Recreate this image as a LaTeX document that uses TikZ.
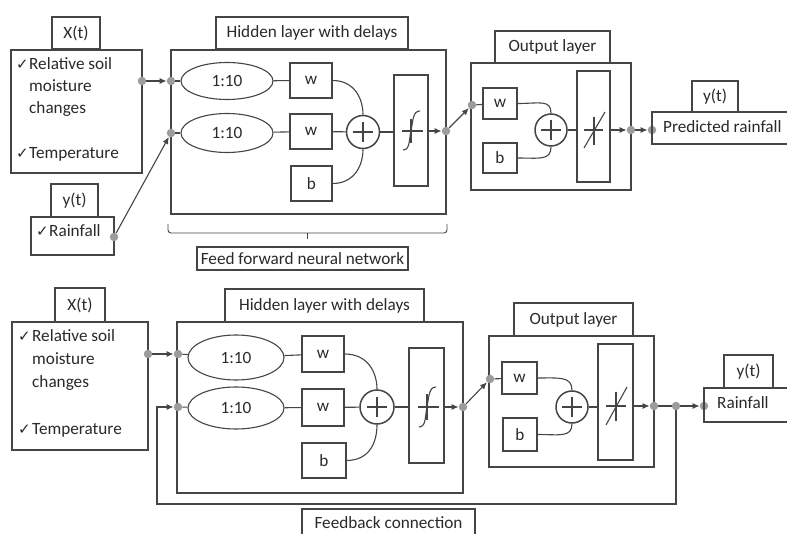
\documentclass[tikz,border=0pt]{standalone}
\usepackage{fontspec}
\setmainfont{Carlito}
\newfontfamily\ckfont{DejaVu Sans}
\usetikzlibrary{shapes.geometric,arrows.meta}
\definecolor{ln}{HTML}{454545}
\definecolor{tx}{HTML}{2A2A2A}
\definecolor{dotc}{HTML}{9C9C9C}
\newcommand\fsz{\fontsize{17.2}{20}\selectfont}
\newcommand\ck{{\ckfont\fontsize{15}{15}\selectfont ✓}}
\begin{document}
\begin{tikzpicture}[x=1pt,y=-1pt,
  box/.style={draw=ln, line width=1.1pt, inner sep=0pt, text=tx, font=\fsz},
  txt/.style={inner sep=0pt, text=tx, font=\fsz},
  ell/.style={box, ellipse},
  sumc/.style={draw=ln, circle, line width=1.5pt, minimum size=33pt, inner sep=0pt},
  dot/.style={circle, fill=dotc, inner sep=0pt, minimum size=8.5pt},
  con/.style={draw=ln, line width=1.1pt},
  arr/.style={con, -{Latex[length=7pt,width=6pt]}},
  glyph/.style={draw=ln, line width=1.1pt}
]
\useasboundingbox (0,0) rectangle (787,534);
\fill[white] (0,0) rectangle (787,534);

% ================= TOP =================
% inputs
\node[box, minimum width=48pt, minimum height=32pt] (xl1) at (76,33) {X(t)};
\node[box, minimum width=131pt, minimum height=123pt] (in1) at (76.5,111.5) {};
\node[txt, anchor=mid west] (c1a) at (16,67) {\ck};
\node[txt, anchor=mid west] (t1a) at (29,67) {Relative soil};
\node[txt, anchor=mid west] (t1b) at (29,89) {moisture};
\node[txt, anchor=mid west] (t1c) at (29,111) {changes};
\node[txt, anchor=mid west] (c1b) at (16,156) {\ck};
\node[txt, anchor=mid west] (t1d) at (29,156) {Temperature};

\node[box, minimum width=47pt, minimum height=33pt] (yl1) at (74.5,200.5) {y(t)};
\node[box, minimum width=83pt, minimum height=38pt] (rn1) at (72.5,236) {};
\node[txt, anchor=mid west] (c1c) at (36,234) {\ck};
\node[txt, anchor=mid west] (t1e) at (49,234) {Rainfall};

% hidden layer
\node[box, minimum width=192pt, minimum height=32pt] (hl1) at (312,33) {Hidden layer with delays};
\node[box, minimum width=275pt, minimum height=164pt] (hid1) at (308.5,132) {};
\node[ell, minimum width=92pt, minimum height=37pt] (e1a) at (227,81) {1:10};
\node[ell, minimum width=92pt, minimum height=39pt] (e1b) at (227,133) {1:10};
\node[box, minimum width=42pt, minimum height=35pt] (w1a) at (311,80.5) {w};
\node[box, minimum width=42pt, minimum height=35pt] (w1b) at (311,131.5) {w};
\node[box, minimum width=41pt, minimum height=35pt] (b1) at (311.5,183.5) {b};
\node[sumc] (s1) at (363,132) {};
\draw[line width=2pt, ln] (s1.center) ++(-10,0) -- ++(20,0);
\draw[line width=2pt, ln] (s1.center) ++(0,-10) -- ++(0,20);
\node[box, minimum width=34pt, minimum height=111pt] (a1) at (411,130.5) {};
\draw[glyph] (411,131) ++(-9,0) -- ++(21,0);
\draw[glyph] (411,131) ++(0,-12) -- ++(0,24);
\draw[glyph] (403,150) .. controls (410,150) and (409,140) .. (411,131) .. controls (413,120) and (413,111) .. (420,111);

\node[dot] (d1a) at (142,81) {};
\node[dot] (d1b) at (171,81) {};
\node[dot] (d1c) at (171,133) {};
\node[dot] (d1r) at (114,237) {};
\node[dot] (d1h) at (446,131) {};

\draw[arr] (d1a) -- (d1b);
\draw[arr] (d1r) -- (d1c);
\draw[con] (d1b) -- (e1a);
\draw[con] (d1c) -- (e1b);
\draw[con] (e1a) -- (w1a);
\draw[con] (e1b) -- (w1b);
\draw[con] (w1a.east) .. controls +(22,0) and +(0,-16) .. (s1.north);
\draw[con] (w1b) -- (s1);
\draw[con] (b1.east) .. controls +(22,0) and +(0,16) .. (s1.south);
\draw[con] (s1) -- (a1.west |- s1);
\draw[arr] (a1.east |- d1h) -- (d1h);

% output layer
\node[box, minimum width=115pt, minimum height=32pt] (ol1) at (552.5,47) {Output layer};
\node[box, minimum width=160pt, minimum height=127pt] (out1) at (551,126.5) {};
\node[dot] (d1o) at (472,105) {};
\node[box, minimum width=34pt, minimum height=31pt] (ow1) at (500,103.5) {w};
\node[box, minimum width=34pt, minimum height=30pt] (ob1) at (500,158) {b};
\node[sumc, minimum size=32pt] (os1) at (551,130) {};
\draw[line width=2pt, ln] (os1.center) ++(-10,0) -- ++(20,0);
\draw[line width=2pt, ln] (os1.center) ++(0,-10) -- ++(0,20);
\node[box, minimum width=33pt, minimum height=111pt] (oa1) at (593.5,126.5) {};
\draw[glyph] (594,130) ++(-10,0) -- ++(19,0);
\draw[glyph] (594,130) ++(0,-13) -- ++(0,28);
\draw[glyph] (594,130) ++(-10,18) -- ++(21,-36);
\node[dot] (d1oo) at (631,130) {};
\node[dot] (d1p) at (652,130) {};

\draw[arr] (d1h) -- (d1o);
\draw[con] (d1o) -- (ow1);
\draw[con] (ow1.east) .. controls +(22,0) and +(0,-14) .. (os1.north);
\draw[con] (ob1.east) .. controls +(22,0) and +(0,14) .. (os1.south);
\draw[con] (os1) -- (oa1.west |- os1);
\draw[arr] (oa1.east |- d1oo) -- (d1oo);
\draw[arr] (d1oo) -- (d1p);

% predicted output
\node[box, minimum width=46pt, minimum height=31pt] (yl1b) at (715,96.5) {y(t)};
\coordinate (pr1) at (787,112);
\coordinate (pr2) at (652,112);
\coordinate (pr3) at (652,144);
\coordinate (pr4) at (787,144);
\draw[con] (pr1) -- (pr2) -- (pr3) -- (pr4);
\node[txt, anchor=mid west] (tp) at (663,130) {Predicted rainfall};

% brace + label
\coordinate (br1) at (168,224);
\coordinate (br2) at (168,233);
\coordinate (br3) at (447,233);
\coordinate (br4) at (447,224);
\coordinate (brm) at (307,233);
\coordinate (brt) at (307,239);
\draw[con, line width=0.9pt, rounded corners=3pt] (br1) -- (br2) -- (br3) -- (br4);
\draw[con, line width=0.9pt] (brm) -- (brt);
\node[box, minimum width=211pt, minimum height=23pt] (ff) at (302.5,258.5) {Feed forward neural network};

% ================= BOTTOM =================
\node[box, minimum width=50pt, minimum height=34pt] (xl2) at (80,305) {X(t)};
\node[box, minimum width=136pt, minimum height=128pt] (in2) at (80,386) {};
\node[txt, anchor=mid west] (c2a) at (18,339) {\ck};
\node[txt, anchor=mid west] (t2a) at (32,339) {Relative soil};
\node[txt, anchor=mid west] (t2b) at (32,362) {moisture};
\node[txt, anchor=mid west] (t2c) at (32,385) {changes};
\node[txt, anchor=mid west] (c2b) at (18,432) {\ck};
\node[txt, anchor=mid west] (t2d) at (32,432) {Temperature};

\node[box, minimum width=199pt, minimum height=33pt] (hl2) at (324.5,305.5) {Hidden layer with delays};
\node[box, minimum width=286pt, minimum height=171pt] (hid2) at (320,407.5) {};
\node[ell, minimum width=96pt, minimum height=45pt] (e2a) at (236,357.5) {1:10};
\node[ell, minimum width=96pt, minimum height=42pt] (e2b) at (236,408) {1:10};
\node[box, minimum width=42pt, minimum height=36pt] (w2a) at (323,354) {w};
\node[box, minimum width=42pt, minimum height=37pt] (w2b) at (323,407.5) {w};
\node[box, minimum width=44pt, minimum height=35pt] (b2) at (324,460.5) {b};
\node[sumc, minimum size=34pt] (s2) at (377,407) {};
\draw[line width=2pt, ln] (s2.center) ++(-10,0) -- ++(20,0);
\draw[line width=2pt, ln] (s2.center) ++(0,-10) -- ++(0,20);
\node[box, minimum width=35pt, minimum height=115pt] (a2) at (426.5,405.5) {};
\draw[glyph] (427,407) ++(-9,0) -- ++(21,0);
\draw[glyph] (427,407) ++(0,-13) -- ++(0,26);
\draw[glyph] (419,427) .. controls (426,427) and (425,417) .. (427,407) .. controls (429,396) and (429,387) .. (436,387);

\node[dot] (d2a) at (148,354) {};
\node[dot] (d2b) at (178,354) {};
\node[dot] (d2c) at (178,407) {};
\node[dot] (d2h) at (463,407) {};

\draw[arr] (d2a) -- (d2b);
\draw[con] (d2b) -- (e2a);
\draw[con] (d2c) -- (e2b);
\draw[con] (e2a) -- (w2a);
\draw[con] (e2b) -- (w2b);
\draw[con] (w2a.east) .. controls +(24,0) and +(0,-16) .. (s2.north);
\draw[con] (w2b) -- (s2);
\draw[con] (b2.east) .. controls +(24,0) and +(0,16) .. (s2.south);
\draw[con] (s2) -- (a2.west |- s2);
\draw[arr] (a2.east |- d2h) -- (d2h);

\node[box, minimum width=119pt, minimum height=33pt] (ol2) at (573.5,319.5) {Output layer};
\node[box, minimum width=165pt, minimum height=131pt] (out2) at (571.5,401.5) {};
\node[dot] (d2o) at (490,379) {};
\node[box, minimum width=35pt, minimum height=32pt] (ow2) at (519.5,378) {w};
\node[box, minimum width=34pt, minimum height=33pt] (ob2) at (520,434.5) {b};
\node[sumc, minimum size=32pt] (os2) at (572,407) {};
\draw[line width=2pt, ln] (os2.center) ++(-10,0) -- ++(20,0);
\draw[line width=2pt, ln] (os2.center) ++(0,-10) -- ++(0,20);
\node[box, minimum width=35pt, minimum height=116pt] (oa2) at (615.5,402) {};
\draw[glyph] (616,406) ++(-10,0) -- ++(20,0);
\draw[glyph] (616,406) ++(0,-14) -- ++(0,29);
\draw[glyph] (616,406) ++(-10,19) -- ++(21,-38);
\node[dot] (d2oo) at (654,406) {};
\node[dot] (d2f) at (676,406) {};
\node[dot] (d2r) at (704,406) {};

\draw[arr] (d2h) -- (d2o);
\draw[con] (d2o) -- (ow2);
\draw[con] (ow2.east) .. controls +(22,0) and +(0,-14) .. (os2.north);
\draw[con] (ob2.east) .. controls +(22,0) and +(0,14) .. (os2.south);
\draw[con] (os2) -- (oa2.west |- os2);
\draw[arr] (oa2.east |- d2oo) -- (d2oo);
\draw[con] (d2oo) -- (d2f);
\draw[arr] (d2f) -- (d2r);

% feedback loop
\coordinate (fb1) at (676,504);
\coordinate (fb2) at (157,504);
\coordinate (fb3) at (157,407);
\draw[arr] (d2f.south) -- (fb1) -- (fb2) -- (fb3) -- (d2c);

% rainfall output
\node[box, minimum width=49pt, minimum height=33pt] (yl2) at (748.5,371.5) {y(t)};
\coordinate (rb1) at (787,388);
\coordinate (rb2) at (704,388);
\coordinate (rb3) at (704,422);
\coordinate (rb4) at (787,422);
\draw[con] (rb1) -- (rb2) -- (rb3) -- (rb4);
\node[txt, anchor=mid west] (tr2) at (717,406) {Rainfall};

% feedback label
\coordinate (fl1) at (302,534);
\coordinate (fl2) at (302,509);
\coordinate (fl3) at (475,509);
\coordinate (fl4) at (475,534);
\draw[con] (fl1) -- (fl2) -- (fl3) -- (fl4);
\node[txt] (tfb) at (388.5,523) {Feedback connection};
\end{tikzpicture}
\end{document}
